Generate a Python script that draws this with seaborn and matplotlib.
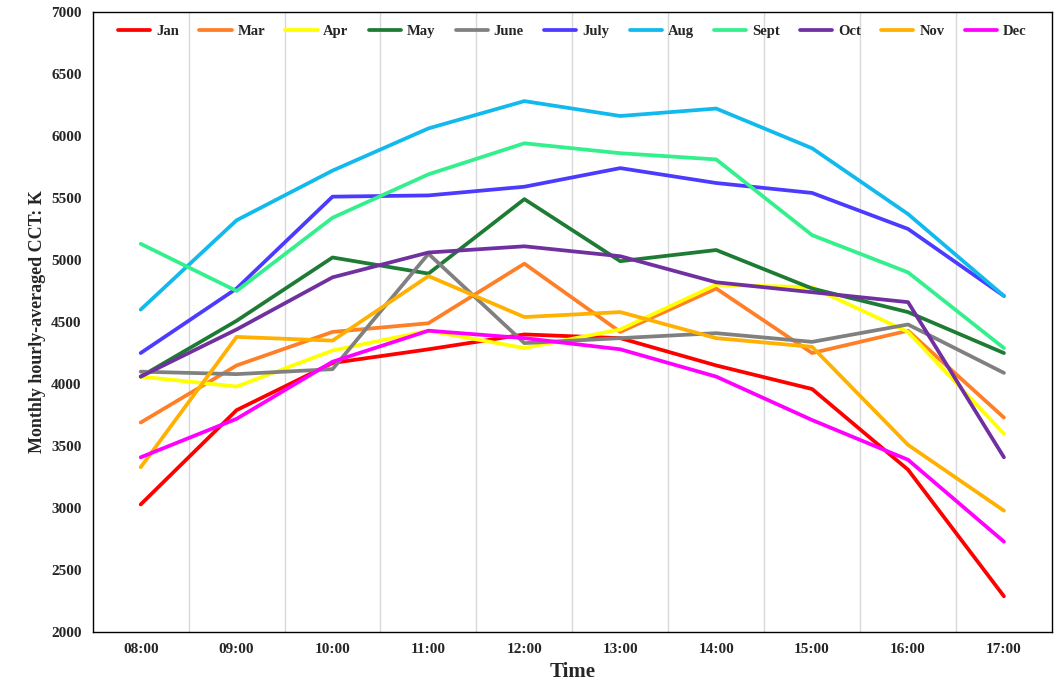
import matplotlib
matplotlib.use("Agg")
import matplotlib.pyplot as plt
import pandas as pd
import seaborn as sns

times = ["08:00", "09:00", "10:00", "11:00", "12:00", "13:00", "14:00", "15:00", "16:00", "17:00"]
months = ["Jan", "Mar", "Apr", "May", "June", "July", "Aug", "Sept", "Oct", "Nov", "Dec"]

jan = [3030, 3790, 4170, 4280, 4400, 4370, 4150, 3960, 3310, 2290]
mar = [3690, 4150, 4420, 4490, 4970, 4420, 4770, 4250, 4430, 3730]
apr = [4060, 3980, 4270, 4430, 4290, 4440, 4800, 4780, 4420, 3600]
may = [4060, 4510, 5020, 4890, 5490, 4990, 5080, 4770, 4580, 4250]
june = [4100, 4080, 4120, 5050, 4330, 4370, 4410, 4340, 4480, 4090]
july = [4250, 4770, 5510, 5520, 5590, 5740, 5620, 5540, 5250, 4710]
aug = [4600, 5320, 5720, 6060, 6280, 6160, 6220, 5900, 5370, 4710]
sept = [5130, 4750, 5340, 5690, 5940, 5860, 5810, 5200, 4900, 4290]
octo = [4060, 4440, 4860, 5060, 5110, 5030, 4820, 4740, 4660, 3410]
nov = [3330, 4380, 4350, 4870, 4540, 4580, 4370, 4300, 3510, 2980]
dec = [3410, 3720, 4180, 4430, 4370, 4280, 4060, 3710, 3390, 2730]

colors = ["#FF0000", "#FF7F27", "#FFFF00", "#1E7B34", "#808080", "#4B3BFF",
          "#12B9EC", "#33F08C", "#7030A0", "#FFB000", "#FF00FF"]

series = [jan, mar, apr, may, june, july, aug, sept, octo, nov, dec]
rows = []
for m, vals in zip(months, series):
    for i, v in enumerate(vals):
        rows.append({"month": m, "idx": i, "cct": v})
df = pd.DataFrame(rows)

sns.set_theme(style="white")
plt.rcParams["font.family"] = ["Liberation Serif", "DejaVu Serif"]
plt.rcParams["font.weight"] = "bold"

fig, ax = plt.subplots(figsize=(10.54, 6.91), dpi=100)
fig.subplots_adjust(left=0.088, right=0.998, top=0.983, bottom=0.085)
sns.lineplot(data=df, x="idx", y="cct", hue="month", hue_order=months,
             palette=colors, linewidth=2.7, ax=ax)

ax.set_xlim(-0.5, 9.5)
ax.set_ylim(2000, 7000)
ax.set_xticks(range(len(times)))
ax.set_xticklabels(times, fontsize=11, fontweight="bold")
ax.set_yticks(range(2000, 7001, 500))
ax.set_yticklabels([str(v) for v in range(2000, 7001, 500)], fontsize=11, fontweight="bold")
for x in [i + 0.5 for i in range(9)]:
    ax.axvline(x, color="#d9d9d9", linewidth=1, zorder=0)
for s in ax.spines.values():
    s.set_color("black")
    s.set_linewidth(1)
ax.tick_params(axis="both", length=0, pad=8)
ax.set_xlabel("Time", fontsize=15, fontweight="bold")
ax.set_ylabel("Monthly hourly-averaged CCT: K", fontsize=13, fontweight="bold")

leg = ax.legend(loc="upper center", ncol=11, frameon=False, fontsize=10.5,
                handlelength=2.2, columnspacing=1.4, handletextpad=0.4,
                bbox_to_anchor=(0.5, 1.0))
for t in leg.get_texts():
    t.set_fontweight("bold")

fig.savefig("out.png", dpi=100)
